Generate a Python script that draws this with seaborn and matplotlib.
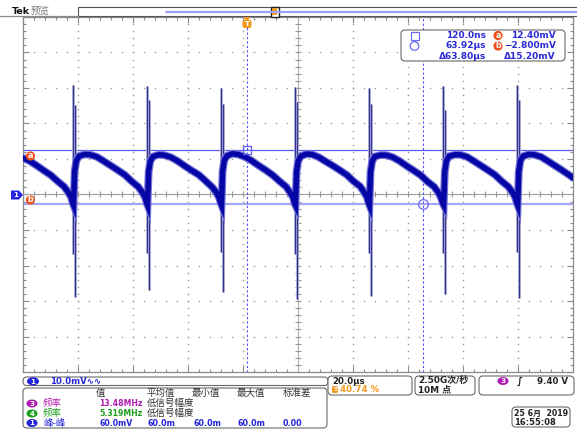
import numpy as np
import pandas as pd
import matplotlib
matplotlib.use("Agg")
import matplotlib.pyplot as plt
import seaborn as sns
from matplotlib.patches import FancyBboxPatch, Rectangle, Ellipse, Circle, Polygon

# ---------------- data (read from the screen) ----------------
# channel 1 trace, time in microseconds, voltage in mV
trace_t_us = [
    -81.5, -79.0, -76.4, -74.0, -71.3, -69.0, -66.5, -65.0, -64.0, -63.4,
    -63.1, -62.7, -62.1, -61.1, -59.1, -57.1, -54.6, -52.1, -49.5, -47.1, -44.4, -42.1, -39.6, -38.1, -37.1, -36.5,
    -36.2, -35.8, -35.2, -34.2, -32.2, -30.2, -27.7, -25.2, -22.6, -20.2, -17.5, -15.2, -12.7, -11.2, -10.2, -9.6,
    -9.3, -8.9, -8.3, -7.3, -5.3, -3.3, -0.8, 1.7, 4.3, 6.7, 9.4, 11.7, 14.2, 15.7, 16.7, 17.3,
    17.6, 18.0, 18.6, 19.6, 21.6, 23.6, 26.1, 28.6, 31.2, 33.6, 36.3, 38.6, 41.1, 42.6, 43.6, 44.2,
    44.5, 44.9, 45.5, 46.5, 48.5, 50.5, 53.0, 55.5, 58.1, 60.5, 63.2, 65.5, 68.0, 69.5, 70.5, 71.1,
    71.5, 71.9, 72.5, 73.5, 75.5, 77.5, 80.0, 82.5, 85.1, 87.5, 90.2, 92.5, 95.0, 96.5, 97.5, 98.1,
    98.4, 98.8, 99.4, 100.4, 102.4, 104.4, 106.9, 109.4, 112.0, 114.4, 117.1, 118.5,
]
trace_mv = [
    10.3, 9.4, 8.1, 6.8, 5.4, 3.8, 2.2, 0.6, -0.8, -2.4,
    -3.0, 6.5, 9.5, 10.8, 11.3, 11.2, 10.6, 9.4, 8.1, 6.9, 5.5, 3.8, 2.2, 0.6, -0.8, -2.4,
    -3.0, 6.4, 9.4, 10.7, 11.2, 11.1, 10.5, 9.4, 8.0, 6.8, 5.5, 3.9, 2.1, 0.6, -0.9, -2.4,
    -3.0, 6.6, 9.6, 10.9, 11.5, 11.3, 10.6, 9.5, 8.1, 6.9, 5.4, 3.8, 2.2, 0.5, -0.8, -2.5,
    -3.0, 6.5, 9.5, 10.8, 11.4, 11.3, 10.5, 9.3, 8.1, 6.9, 5.5, 3.8, 2.3, 0.6, -0.8, -2.4,
    -3.0, 6.4, 9.4, 10.7, 11.1, 11.1, 10.5, 9.4, 8.0, 6.8, 5.4, 3.7, 2.2, 0.6, -0.9, -2.4,
    -3.0, 6.5, 9.5, 10.8, 11.2, 11.2, 10.6, 9.4, 8.1, 6.9, 5.5, 3.8, 2.2, 0.6, -0.8, -2.4,
    -3.0, 6.5, 9.6, 10.8, 11.3, 11.2, 10.6, 9.4, 8.1, 6.9, 5.5, 4.7,
]
# switching spikes (two per edge)
spike_a_t_us = [-63.3, -36.4, -9.5, 17.4, 44.3, 71.3, 98.2]
spike_a_top = [30.8, 30.6, 30.1, 30.4, 29.9, 30.6, 30.8]
spike_a_bot = [-16.8, -16.5, -16.2, -16.8, -16.5, -16.5, -16.2]
spike_b_t_us = [-62.5, -35.6, -8.7, 18.2, 45.1, 72.1, 99.0]
spike_b_top = [25.2, 26.6, 25.4, 26.0, 25.6, 23.8, 26.6]
spike_b_bot = [-28.8, -27.0, -27.5, -29.4, -28.5, -27.9, -29.2]

# cursors
cursor_t_us = [0.12, 63.92]
cursor_mv = [12.40, -2.80]
cursor_time_txt = ["120.0ns", "63.92µs", "Δ63.80µs"]
cursor_volt_txt = ["12.40mV", "−2.800mV", "Δ15.20mV"]

# screen settings
time_per_div = 20.0       # µs/div
volt_per_div = 10.0       # mV/div
trigger_pos = 0.4074      # fraction of record
n_hdiv, n_vdiv = 10, 10

# measurement table
meas_header = ["值", "平均值", "最小值", "最大值", "标准差"]
meas_ch = ["3", "4", "1"]
meas_name = ["频率", "频率", "峰-峰"]
meas_value = ["13.48MHz", "5.319MHz", "60.0mV"]
meas_rest = [["低信号幅度"], ["低信号幅度"], ["60.0m", "60.0m", "60.0m", "0.00"]]
meas_colors = ["#b01cb0", "#1c9e1c", "#2323d8"]

# ---------------- figure ----------------
sns.set_theme(style="white")
plt.rcParams['font.family'] = ['DejaVu Sans', 'Noto Sans CJK SC']
W, H = 577, 429
fig = plt.figure(figsize=(W / 100, H / 100), dpi=100)
fig.patch.set_facecolor("white")

L, R, T, B = 23, 573, 17, 372
ax = fig.add_axes([L / W, 1 - B / H, (R - L) / W, (B - T) / H])
x0 = -trigger_pos * n_hdiv * time_per_div
x1 = x0 + n_hdiv * time_per_div
ax.set_xlim(x0, x1)
ax.set_ylim(-n_vdiv / 2 * volt_per_div, n_vdiv / 2 * volt_per_div)
ax.set_facecolor("white")
ax.grid(False)

gcol = "#9a9a9a"
for s in ax.spines.values():
    s.set_color("#8a8a8a")
    s.set_linewidth(0.9)
ax.set_xticks(np.arange(x0, x1 + 0.01, time_per_div))
ax.set_xticks(np.arange(x0, x1 + 0.01, time_per_div / 5), minor=True)
ax.set_yticks(np.arange(-50, 50.01, volt_per_div))
ax.set_yticks(np.arange(-50, 50.01, volt_per_div / 5), minor=True)
ax.tick_params(which="both", direction="in", top=True, right=True, bottom=True, left=True,
               labelbottom=False, labelleft=False, color="#8a8a8a", width=0.8)
ax.tick_params(which="major", length=4)
ax.tick_params(which="minor", length=2.5)

# dotted graticule
xc = x0 + n_hdiv / 2 * time_per_div
for k in range(1, n_hdiv):
    if k == n_hdiv // 2:
        continue
    gx = x0 + k * time_per_div
    ys = np.arange(-50, 50.01, volt_per_div / 5)
    ax.plot(np.full_like(ys, gx), ys, ls="none", marker="s", ms=1.0, color=gcol, mew=0)
for j in range(1, n_vdiv):
    if j == n_vdiv // 2:
        continue
    gy = -50 + j * volt_per_div
    xs = np.arange(x0, x1 + 0.01, time_per_div / 5)
    ax.plot(xs, np.full_like(xs, gy), ls="none", marker="s", ms=1.0, color=gcol, mew=0)
# centre crosshair
ax.axvline(xc, color="#b0b0b0", lw=0.8, zorder=1)
ax.axhline(0, color="#a0a0a0", lw=0.8, zorder=1)
xs = np.arange(x0, x1 + 0.01, time_per_div / 5)
ax.plot(xs, np.zeros_like(xs), ls="none", marker="|", ms=4, mew=0.8, color="#999999")
ys = np.arange(-50, 50.01, volt_per_div / 5)
ax.plot(np.full_like(ys, xc), ys, ls="none", marker="_", ms=4, mew=0.8, color="#999999")

# cursors
ax.axhline(cursor_mv[0], color="#5c5cf2", lw=0.9, zorder=2)
ax.axhline(cursor_mv[1], color="#a6a6f6", lw=1.6, zorder=2)
for ct in cursor_t_us:
    ax.axvline(ct, color="#4d4dff", lw=0.8, ls=(0, (2, 2)), zorder=2)

# spikes
for ts, tp, bt in ((spike_a_t_us, spike_a_top, spike_a_bot), (spike_b_t_us, spike_b_top, spike_b_bot)):
    ax.vlines(ts, bt, tp, color="#b4b4e0", lw=2.0, zorder=3)
    ax.vlines(ts, bt, tp, color="#34348c", lw=0.9, zorder=4)

# trace
df = pd.DataFrame({"t": trace_t_us, "v": trace_mv})
sns.lineplot(data=df, x="t", y="v", ax=ax, sort=False, estimator=None, color="#7474d6",
             lw=5.6, zorder=5, solid_joinstyle="miter")
sns.lineplot(data=df, x="t", y="v", ax=ax, sort=False, estimator=None, color="#0606a6",
             lw=3.9, zorder=6, solid_joinstyle="miter")
ax.set_xlabel("")
ax.set_ylabel("")

# cursor markers
ax.plot(cursor_t_us[0], cursor_mv[0], marker="s", ms=6, mfc="none", mec="#5c5cf2", mew=0.9, zorder=7)
ax.plot(cursor_t_us[1], cursor_mv[1], marker="o", ms=7, mfc="none", mec="#6a6af2", mew=0.9, zorder=7)

# ---------------- overlay (pixel coordinates) ----------------
ov = fig.add_axes([0, 0, 1, 1])
ov.set_xlim(0, W)
ov.set_ylim(H, 0)
ov.axis("off")
ov.patch.set_alpha(0)

def txt(x, y, s, color="#222222", size=6.2, weight="bold", ha="left", va="center", **kw):
    ov.text(x, y, s, color=color, fontsize=size, fontweight=weight, ha=ha, va=va, **kw)

def rbox(x, y, w, h, r=4, ec="#6a6a6a", lw=0.8):
    ov.add_patch(FancyBboxPatch((x, y), w, h, boxstyle=f"round,pad=0,rounding_size={r}",
                                fc="white", ec=ec, lw=lw))

def badge(x, y, s, fc, w=11, h=8):
    ov.add_patch(Ellipse((x, y), w, h, fc=fc, ec="none"))
    txt(x, y + 0.3, s, color="white", size=5.2, ha="center")

# top bar
ov.plot([0, 78], [16, 16], color="#8a8a8a", lw=0.9)
ov.add_patch(Rectangle((78, 7), 505, 9, fc="white", ec="#555555", lw=0.8))
ov.plot([166, 577], [11.5, 11.5], color="#a0a0f4", lw=1.6)
ov.add_patch(Rectangle((270.5, 6.5), 8, 10, fc="white", ec="#222222", lw=1.0))
ov.add_patch(Rectangle((272, 8), 5, 7, fc="#f29a1e", ec="none"))
txt(12, 11, "Tek", color="#111111", size=6.8)
txt(31, 11, "预览", color="#777777", size=6.8, weight="normal")

# trigger marker
ov.add_patch(Polygon([[243, 17], [251, 17], [247, 21]], closed=True, fc="#f29a1e", ec="none"))
ov.add_patch(FancyBboxPatch((242.5, 20), 9, 8, boxstyle="round,pad=0,rounding_size=2",
                            fc="#f29a1e", ec="none"))
txt(247, 24.3, "T", color="white", size=5.2, ha="center")

# channel 1 ground marker
ov.add_patch(Polygon([[11, 190.5], [19, 190.5], [23, 195], [19, 199.5], [11, 199.5]],
                     closed=True, fc="#2424e6", ec="none"))
txt(15.5, 195.3, "1", color="white", size=5.2, ha="center")

# cursor a/b labels
for yy, s in ((156, "a"), (200, "b")):
    ov.add_patch(Circle((30.5, yy), 4.6, fc="#f0501a", ec="none"))
    txt(30.5, yy - 0.3, s, color="white", size=5.8, ha="center")

# cursor readout
rbox(401, 30, 164, 31, r=4)
cblue = "#2b2bd6"
ys_r = [35.5, 46, 56.5]
ov.add_patch(Rectangle((410.5, 31.5), 8, 8, fc="none", ec="#6a6af2", lw=0.9))
ov.add_patch(Circle((414.5, 46), 4.3, fc="none", ec="#6a6af2", lw=0.9))
for i in range(3):
    txt(486, ys_r[i], cursor_time_txt[i], color=cblue, ha="right", size=6.5)
    txt(556, ys_r[i], cursor_volt_txt[i], color=cblue, ha="right", size=6.5)
for yy, s in ((35.5, "a"), (46, "b")):
    ov.add_patch(Circle((498, yy), 4.6, fc="#f0501a", ec="none"))
    txt(498, yy - 0.3, s, color="white", size=5.8, ha="center")

# bottom: channel box
rbox(23, 377, 305, 8.5, r=4)
badge(33, 381.3, "1", "#2222dd", w=12, h=8)
txt(50, 381.5, "10.0mV∿∿", color=cblue)

# measurement box
rbox(23, 388, 304, 40, r=4)
hx = [100, 161, 206, 251, 297]
for x, s in zip(hx, meas_header):
    txt(x, 393.5, s, color="#333333", size=6.8, weight="normal", ha="center")
rows_y = [403.5, 413.5, 423]
for i in range(3):
    badge(32, rows_y[i], meas_ch[i], meas_colors[i], w=11, h=8)
    txt(43, rows_y[i], meas_name[i], color=meas_colors[i], size=6.8, weight="normal")
    txt(99, rows_y[i], meas_value[i], color=meas_colors[i], size=5.6)
    rest = meas_rest[i]
    if len(rest) == 1:
        txt(147, rows_y[i], rest[0], color="#333333", size=6.8, weight="normal")
    else:
        for x, s in zip([147, 193, 237, 283], rest):
            txt(x, rows_y[i], s, color=meas_colors[i], size=5.8)

# horizontal settings
rbox(328, 376, 84, 19, r=4)
txt(332, 381, "20.0µs", color="#222222")
ov.add_patch(FancyBboxPatch((332, 386), 6, 7, boxstyle="round,pad=0,rounding_size=1.5",
                            fc="#f29a1e", ec="none"))
txt(335, 389.8, "T", color="white", size=4.5, ha="center")
txt(340, 389.7, "40.74 %", color="#f29a1e")

# acquisition
rbox(415, 376, 60, 19, r=4)
txt(418, 381, "2.50G次/秒", color="#222222", size=6.4)
txt(418, 390, "10M 点", color="#222222", size=6.4)

# trigger settings
rbox(479, 376, 95, 19, r=4)
badge(503, 381, "3", "#b01cb0", w=11, h=8)
txt(520, 381, "∫", color="#222222", size=7, ha="center", style="italic")
txt(568, 381, "9.40 V", color="#222222", ha="right")

# date
rbox(512, 407, 58, 20, r=4)
txt(514, 413, "25 6月  2019", color="#222222", size=5.7)
txt(514, 422.5, "16:55:08", color="#222222", size=6.0)

fig.savefig("out.png", dpi=100, facecolor="white")
